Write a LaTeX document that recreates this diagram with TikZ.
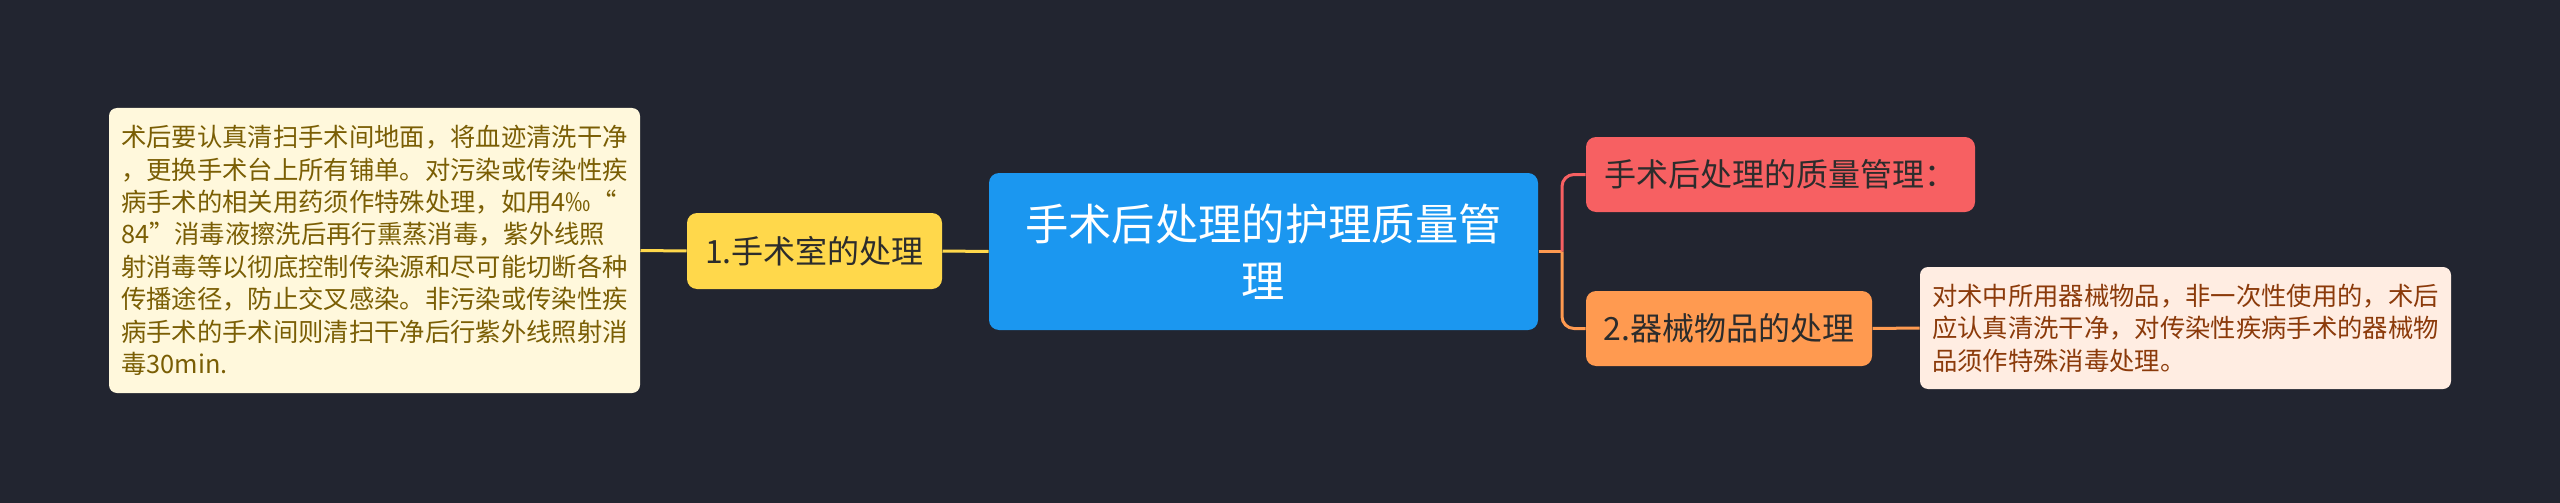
\documentclass[tikz,border=0pt]{standalone}
\usepackage{fontspec}
\setmainfont{Noto Sans CJK SC}

\definecolor{bgdark}{RGB}{34,37,48}
\definecolor{rootblue}{RGB}{27,151,240}
\definecolor{topicyellow}{RGB}{255,216,75}
\definecolor{topicred}{RGB}{247,96,98}
\definecolor{topicorange}{RGB}{255,154,80}
\definecolor{topictext}{RGB}{44,44,44}
\definecolor{noteyellow}{RGB}{255,248,220}
\definecolor{noteyellowtext}{RGB}{122,94,4}
\definecolor{noteorange}{RGB}{255,237,226}
\definecolor{noteorangetext}{RGB}{139,58,10}

\tikzset{every picture/.style={line width=0.75pt}}
\tikzset{
  topic/.style={rounded corners=7.5pt, inner sep=0pt, align=center, text=topictext, font=\fontsize{24}{30}\selectfont},
  note/.style={rounded corners=6pt, inner sep=0pt, align=left, font=\fontsize{19}{24.3}\selectfont},
  link/.style={line width=2.25pt},
}

\begin{document}
\begin{tikzpicture}[x=0.75pt,y=0.75pt,yscale=-1,xscale=1]
%set diagram left start at 0, and has height of 503
\useasboundingbox (0,0) rectangle (2560,503);
\fill[bgdark] (0,0) rectangle (2560,503);

% Root Node
\node[topic, fill=rootblue, text=white, minimum width=411.75pt, minimum height=117.75pt, font=\fontsize{32.5}{42.75}\selectfont] (root) at (1263.5,251.5) {手术后处理的护理质量管\\理};

% Topic Nodes
\node[topic, fill=topicyellow, minimum width=191.25pt, minimum height=57pt] (room) at (814.5,251) {1.手术室的处理};
\node[topic, fill=topicred, minimum width=291.75pt, minimum height=56.25pt] (quality) at (1780.5,174.5) {手术后处理的质量管理：};
\node[topic, fill=topicorange, minimum width=214.5pt, minimum height=56.25pt] (tools) at (1729,328.5) {2.器械物品的处理};

% Text Node
\node[note, fill=noteyellow, text=noteyellowtext, minimum width=398.25pt, minimum height=213.75pt] (roomnote) at (374.5,250.5) {术后要认真清扫手术间地面，将血迹清洗干净\\，更换手术台上所有铺单。对污染或传染性疾\\病手术的相关用药须作特殊处理，如用4‰“\\84”消毒液擦洗后再行熏蒸消毒，紫外线照\\射消毒等以彻底控制传染源和尽可能切断各种\\传播途径，防止交叉感染。非污染或传染性疾\\病手术的手术间则清扫干净后行紫外线照射消\\毒30min.};
\node[note, fill=noteorange, text=noteorangetext, minimum width=398.25pt, minimum height=91.5pt] (toolsnote) at (2185.5,328) {对术中所用器械物品，非一次性使用的，术后\\应认真清洗干净，对传染性疾病手术的器械物\\品须作特殊消毒处理。};

% Connectors
\coordinate (fork) at (1562,251.5);
\draw[link, draw=topicyellow] (roomnote.east) -- (room.west);
\draw[link, draw=topicyellow] (room.east) -- (root.west);
\draw[link, draw=topicorange] (root.east) -- (fork);
\draw[link, draw=topicred, rounded corners=9pt] (fork) |- (quality.west);
\draw[link, draw=topicorange, rounded corners=9pt] (fork) |- (tools.west);
\draw[link, draw=topicorange] (tools.east) -- (toolsnote.west);

\end{tikzpicture}
\end{document}
